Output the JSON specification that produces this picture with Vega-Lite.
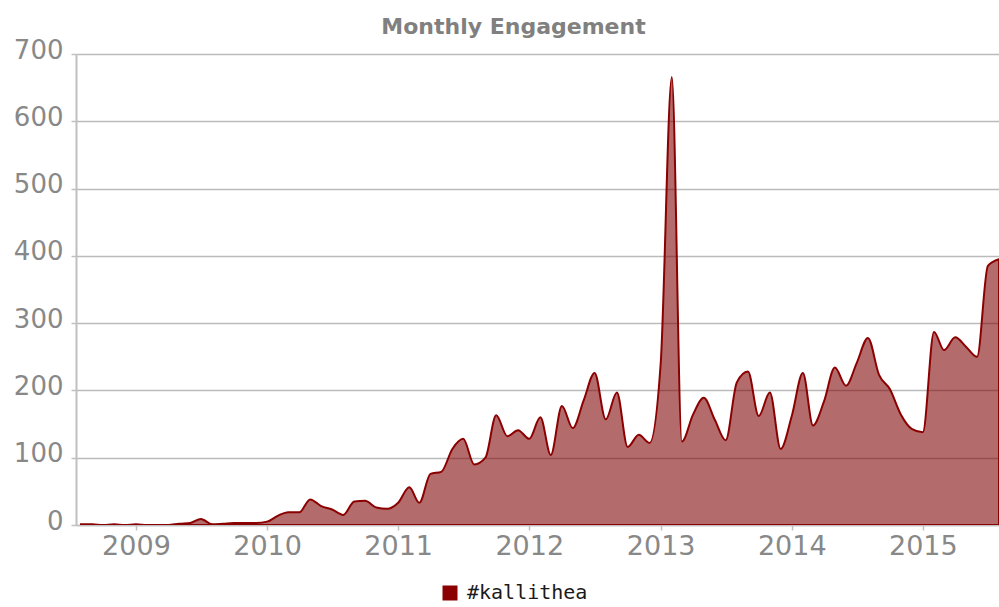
{
  "$schema": "https://vega.github.io/schema/vega-lite/v6.json",
  "autosize": {"type": "none"},
  "width": 923,
  "height": 471,
  "padding": {"left": 76, "top": 54, "right": 0, "bottom": 82},
  "background": "white",
  "title": {
    "text": "Monthly Engagement",
    "font": "DejaVu Sans",
    "fontSize": 22,
    "fontWeight": "bold",
    "color": "#808080",
    "anchor": "middle",
    "dx": -24,
    "offset": -2
  },
  "data": {
    "values": [
      {"date": "2008-08-01", "value": 1, "series": "#kallithea"},
      {"date": "2008-09-01", "value": 1, "series": "#kallithea"},
      {"date": "2008-10-01", "value": 0, "series": "#kallithea"},
      {"date": "2008-11-01", "value": 1, "series": "#kallithea"},
      {"date": "2008-12-01", "value": 0, "series": "#kallithea"},
      {"date": "2009-01-01", "value": 1, "series": "#kallithea"},
      {"date": "2009-02-01", "value": 0, "series": "#kallithea"},
      {"date": "2009-03-01", "value": 0, "series": "#kallithea"},
      {"date": "2009-04-01", "value": 0, "series": "#kallithea"},
      {"date": "2009-05-01", "value": 2, "series": "#kallithea"},
      {"date": "2009-06-01", "value": 3, "series": "#kallithea"},
      {"date": "2009-07-01", "value": 9, "series": "#kallithea"},
      {"date": "2009-08-01", "value": 1, "series": "#kallithea"},
      {"date": "2009-09-01", "value": 2, "series": "#kallithea"},
      {"date": "2009-10-01", "value": 3, "series": "#kallithea"},
      {"date": "2009-11-01", "value": 3, "series": "#kallithea"},
      {"date": "2009-12-01", "value": 3, "series": "#kallithea"},
      {"date": "2010-01-01", "value": 5, "series": "#kallithea"},
      {"date": "2010-02-01", "value": 14, "series": "#kallithea"},
      {"date": "2010-03-01", "value": 19, "series": "#kallithea"},
      {"date": "2010-04-01", "value": 19, "series": "#kallithea"},
      {"date": "2010-05-01", "value": 38, "series": "#kallithea"},
      {"date": "2010-06-01", "value": 28, "series": "#kallithea"},
      {"date": "2010-07-01", "value": 23, "series": "#kallithea"},
      {"date": "2010-08-01", "value": 15, "series": "#kallithea"},
      {"date": "2010-09-01", "value": 35, "series": "#kallithea"},
      {"date": "2010-10-01", "value": 36, "series": "#kallithea"},
      {"date": "2010-11-01", "value": 26, "series": "#kallithea"},
      {"date": "2010-12-01", "value": 24, "series": "#kallithea"},
      {"date": "2011-01-01", "value": 33, "series": "#kallithea"},
      {"date": "2011-02-01", "value": 56, "series": "#kallithea"},
      {"date": "2011-03-01", "value": 33, "series": "#kallithea"},
      {"date": "2011-04-01", "value": 76, "series": "#kallithea"},
      {"date": "2011-05-01", "value": 79, "series": "#kallithea"},
      {"date": "2011-06-01", "value": 113, "series": "#kallithea"},
      {"date": "2011-07-01", "value": 128, "series": "#kallithea"},
      {"date": "2011-08-01", "value": 90, "series": "#kallithea"},
      {"date": "2011-09-01", "value": 100, "series": "#kallithea"},
      {"date": "2011-10-01", "value": 163, "series": "#kallithea"},
      {"date": "2011-11-01", "value": 132, "series": "#kallithea"},
      {"date": "2011-12-01", "value": 141, "series": "#kallithea"},
      {"date": "2012-01-01", "value": 128, "series": "#kallithea"},
      {"date": "2012-02-01", "value": 160, "series": "#kallithea"},
      {"date": "2012-03-01", "value": 104, "series": "#kallithea"},
      {"date": "2012-04-01", "value": 177, "series": "#kallithea"},
      {"date": "2012-05-01", "value": 144, "series": "#kallithea"},
      {"date": "2012-06-01", "value": 186, "series": "#kallithea"},
      {"date": "2012-07-01", "value": 226, "series": "#kallithea"},
      {"date": "2012-08-01", "value": 157, "series": "#kallithea"},
      {"date": "2012-09-01", "value": 197, "series": "#kallithea"},
      {"date": "2012-10-01", "value": 116, "series": "#kallithea"},
      {"date": "2012-11-01", "value": 134, "series": "#kallithea"},
      {"date": "2012-12-01", "value": 122, "series": "#kallithea"},
      {"date": "2013-01-01", "value": 240, "series": "#kallithea"},
      {"date": "2013-02-01", "value": 666, "series": "#kallithea"},
      {"date": "2013-03-01", "value": 124, "series": "#kallithea"},
      {"date": "2013-04-01", "value": 164, "series": "#kallithea"},
      {"date": "2013-05-01", "value": 189, "series": "#kallithea"},
      {"date": "2013-06-01", "value": 156, "series": "#kallithea"},
      {"date": "2013-07-01", "value": 126, "series": "#kallithea"},
      {"date": "2013-08-01", "value": 212, "series": "#kallithea"},
      {"date": "2013-09-01", "value": 228, "series": "#kallithea"},
      {"date": "2013-10-01", "value": 162, "series": "#kallithea"},
      {"date": "2013-11-01", "value": 197, "series": "#kallithea"},
      {"date": "2013-12-01", "value": 113, "series": "#kallithea"},
      {"date": "2014-01-01", "value": 162, "series": "#kallithea"},
      {"date": "2014-02-01", "value": 226, "series": "#kallithea"},
      {"date": "2014-03-01", "value": 148, "series": "#kallithea"},
      {"date": "2014-04-01", "value": 184, "series": "#kallithea"},
      {"date": "2014-05-01", "value": 234, "series": "#kallithea"},
      {"date": "2014-06-01", "value": 207, "series": "#kallithea"},
      {"date": "2014-07-01", "value": 241, "series": "#kallithea"},
      {"date": "2014-08-01", "value": 278, "series": "#kallithea"},
      {"date": "2014-09-01", "value": 223, "series": "#kallithea"},
      {"date": "2014-10-01", "value": 202, "series": "#kallithea"},
      {"date": "2014-11-01", "value": 164, "series": "#kallithea"},
      {"date": "2014-12-01", "value": 143, "series": "#kallithea"},
      {"date": "2015-01-01", "value": 138, "series": "#kallithea"},
      {"date": "2015-02-01", "value": 287, "series": "#kallithea"},
      {"date": "2015-03-01", "value": 260, "series": "#kallithea"},
      {"date": "2015-04-01", "value": 279, "series": "#kallithea"},
      {"date": "2015-05-01", "value": 265, "series": "#kallithea"},
      {"date": "2015-06-01", "value": 250, "series": "#kallithea"},
      {"date": "2015-07-01", "value": 385, "series": "#kallithea"},
      {"date": "2015-08-01", "value": 395, "series": "#kallithea"}
    ]
  },
  "mark": {
    "type": "area",
    "interpolate": "monotone",
    "fill": "#7c0000",
    "fillOpacity": 0.58,
    "stroke": "#8b0000",
    "strokeWidth": 2,
    "strokeOpacity": 1,
    "clip": true
  },
  "encoding": {
    "x": {
      "field": "date",
      "type": "temporal",
      "scale": {"type": "utc", "domain": ["2008-07-18", "2015-08-01"], "nice": false},
      "axis": {
        "title": null,
        "format": "%Y",
        "formatType": "utc",
        "values": [
          {"year": 2009, "utc": true}, {"year": 2010, "utc": true}, {"year": 2011, "utc": true},
          {"year": 2012, "utc": true}, {"year": 2013, "utc": true}, {"year": 2014, "utc": true},
          {"year": 2015, "utc": true}
        ],
        "grid": false,
        "domainColor": "#c0c0c0",
        "domainWidth": 1.5,
        "tickColor": "#c0c0c0",
        "tickSize": 5,
        "tickWidth": 1.5,
        "labelFont": "DejaVu Sans",
        "labelFontSize": 27,
        "labelColor": "#888888",
        "labelPadding": 3,
        "labelFlush": false,
        "labelOverlap": false
      }
    },
    "y": {
      "field": "value",
      "type": "quantitative",
      "scale": {"domain": [0, 700], "nice": false},
      "axis": {
        "title": null,
        "values": [0, 100, 200, 300, 400, 500, 600, 700],
        "grid": true,
        "gridColor": "#bbbbbb",
        "gridWidth": 1.5,
        "domainColor": "#c0c0c0",
        "domainWidth": 2,
        "tickColor": "#c0c0c0",
        "tickSize": 5,
        "tickWidth": 1.5,
        "labelFont": "DejaVu Sans",
        "labelFontSize": 26,
        "labelColor": "#888888",
        "labelPadding": 8,
        "labelOffset": -4,
        "labelFlush": false
      }
    },
    "color": {
      "field": "series",
      "type": "nominal",
      "scale": {"range": ["#8b0000"]},
      "legend": {
        "title": null,
        "orient": "none",
        "legendX": 364,
        "legendY": 529,
        "padding": 0,
        "symbolType": "square",
        "symbolSize": 225,
        "symbolOpacity": 1,
        "symbolStrokeWidth": 0,
        "labelFont": "DejaVu Sans Mono",
        "labelFontSize": 20,
        "labelColor": "#1a1a1a",
        "labelOffset": 7
      }
    }
  },
  "config": {
    "view": {"stroke": null}
  }
}
